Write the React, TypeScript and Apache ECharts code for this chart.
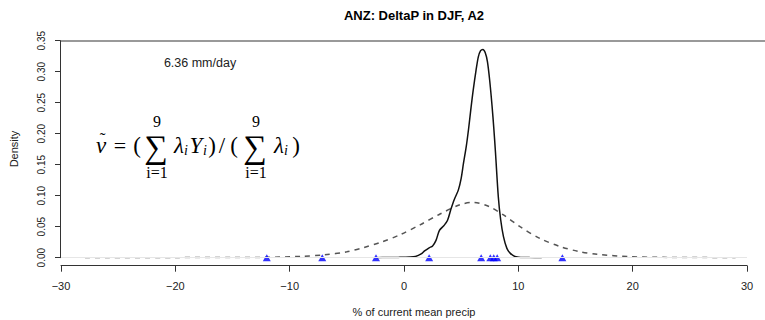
import React, { useEffect, useRef } from "react";
import * as echarts from "echarts";

const solidX = [-2.4, -1.5, -0.5, 0.5, 1.0, 1.5, 1.8, 2.2, 2.5, 2.8, 3.1, 3.5, 3.8, 4.1, 4.4, 4.75, 5.0, 5.2, 5.45, 5.65, 5.85, 6.05, 6.3, 6.5, 6.7, 6.9, 7.1, 7.3, 7.5, 7.7, 7.85, 8.0, 8.25, 8.45, 8.7, 9.0, 9.3, 9.7, 10.2, 11.0, 12.05];
const solidY = [0.0, 0.0003, 0.0005, 0.001, 0.002, 0.006, 0.011, 0.016, 0.019, 0.028, 0.044, 0.052, 0.06, 0.078, 0.094, 0.109, 0.128, 0.152, 0.18, 0.208, 0.24, 0.27, 0.302, 0.324, 0.334, 0.336, 0.331, 0.316, 0.285, 0.245, 0.21, 0.17, 0.098, 0.062, 0.034, 0.015, 0.007, 0.002, 0.0005, 0.0002, 0.0];

const dashX = [-27.9, -20, -15, -12, -9, -7, -5, -3.5, -2, -0.35, 1.4, 3.15, 4.9, 6.06, 7.5, 8.7, 10.15, 11.9, 13.65, 15.3, 16.9, 19.8, 23, 29];
const dashY = [0.0, 0.0001, 0.0003, 0.0006, 0.0022, 0.0045, 0.0095, 0.0165, 0.025, 0.037, 0.053, 0.0705, 0.0855, 0.0893, 0.082, 0.069, 0.05, 0.031, 0.018, 0.01, 0.0055, 0.0016, 0.0005, 0.0];

const modelX = [-12.0, -7.15, -2.45, 2.2, 6.75, 7.55, 7.85, 8.15, 13.85];

const xTicks = [-30, -20, -10, 0, 10, 20, 30];
const yTicks = [0, 0.05, 0.1, 0.15, 0.2, 0.25, 0.3, 0.35];

const titleText = "ANZ: DeltaP in DJF, A2";
const xLabel = "% of current mean precip";
const yLabel = "Density";
const meanLabel = "6.36 mm/day";

const sans = "'Liberation Sans', Arial, sans-serif";
const serif = "'Liberation Serif', 'DejaVu Serif', serif";

function txt(text: string, x: number, y: number, font: string, fill = "#000", rotation = 0) {
  return {
    type: "text",
    x,
    y,
    rotation,
    style: { text, fill, font, align: "center", verticalAlign: "middle" },
  };
}

function mathText(text: string, x: number, y: number, size: number, italic: boolean) {
  return txt(text, x, y, `${italic ? "italic " : ""}${size}px ${serif}`);
}

export default function App() {
  const ref = useRef<HTMLDivElement>(null);
  useEffect(() => {
    document.body.style.margin = "0";
    if (!ref.current) return;
    const chart = echarts.init(ref.current, null, { renderer: "svg" });
    const fmtX = (v: number) => (v < 0 ? "\u2212" + Math.abs(v) : String(v));
    chart.setOption({
      animation: false,
      backgroundColor: "#fff",
      grid: { left: 61, right: 18, top: 40.7, bottom: 62.3, containLabel: false, outerBoundsMode: "none" },
      xAxis: {
        type: "value",
        min: xTicks[0],
        max: xTicks[xTicks.length - 1],
        interval: 10,
        offset: 8,
        axisLine: { show: true, onZero: false, lineStyle: { color: "#333", width: 1 } },
        axisTick: { show: true, length: 6, lineStyle: { color: "#333" } },
        axisLabel: { formatter: fmtX, fontSize: 11, color: "#222", fontFamily: sans, margin: 15 },
        splitLine: { show: false },
      },
      yAxis: {
        type: "value",
        min: yTicks[0],
        max: yTicks[yTicks.length - 1],
        interval: 0.05,
        offset: 1,
        axisLine: { show: true, onZero: false, lineStyle: { color: "#333", width: 1 } },
        axisTick: { show: true, length: 5, lineStyle: { color: "#333" } },
        axisLabel: {
          formatter: (v: number) => v.toFixed(2),
          rotate: 90,
          fontSize: 10,
          color: "#222",
          fontFamily: sans,
          margin: 14,
        },
        splitLine: { show: false },
      },
      series: [
        {
          type: "line",
          data: dashX.map((x, i) => [x, dashY[i]]),
          showSymbol: false,
          smooth: 0.3,
          lineStyle: { color: "#555", width: 1.5, type: [5, 5] },
          z: 2,
          markLine: {
            silent: true,
            symbol: "none",
            label: { show: false },
            lineStyle: { color: "#e6e6e6", width: 1, type: "solid" },
            data: [{ yAxis: 0 }],
          },
        },
        {
          type: "line",
          data: solidX.map((x, i) => [x, solidY[i]]),
          showSymbol: false,
          smooth: 0.3,
          lineStyle: { color: "#111", width: 1.5 },
          z: 3,
        },
        {
          type: "scatter",
          data: modelX.map((x) => [x, 0]),
          symbol: "triangle",
          symbolSize: [8, 7],
          itemStyle: { color: "#0000ff" },
          z: 4,
        },
      ],
      graphic: [
        {
          type: "line",
          shape: { x1: 60, y1: 41, x2: 765, y2: 41 },
          style: { stroke: "#999", lineWidth: 2 },
        },
        txt(titleText, 414, 15, `bold 13px ${sans}`),
        txt(xLabel, 414, 312, `11px ${sans}`, "#222"),
        txt(yLabel, 14, 149, `11px ${sans}`, "#222", Math.PI / 2),
        txt(meanLabel, 200, 63, `12.5px ${sans}`, "#222"),
        mathText("\u03BD", 101, 145, 23, true),
        mathText("\u02DC", 102.5, 138, 17, false),
        mathText("=", 120, 145, 22, false),
        mathText("(", 137, 145, 23, false),
        mathText("\u2211", 156, 147, 33, false),
        mathText("9", 157, 121, 16, false),
        mathText("i=1", 157, 172, 16, false),
        mathText("\u03BB", 179, 145, 23, true),
        mathText("i", 186, 150, 14, true),
        mathText("Y", 196, 145, 23, true),
        mathText("i", 205, 150, 14, true),
        mathText(")", 212, 145, 23, false),
        mathText("/", 222, 145, 23, false),
        mathText("(", 234, 145, 23, false),
        mathText("\u2211", 255, 147, 33, false),
        mathText("9", 256, 121, 16, false),
        mathText("i=1", 256, 172, 16, false),
        mathText("\u03BB", 279, 145, 23, true),
        mathText("i", 286, 150, 14, true),
        mathText(")", 296, 145, 23, false),
      ],
    });
    return () => chart.dispose();
  }, []);
  return <div ref={ref} style={{ width: 765, height: 320 }} />;
}
